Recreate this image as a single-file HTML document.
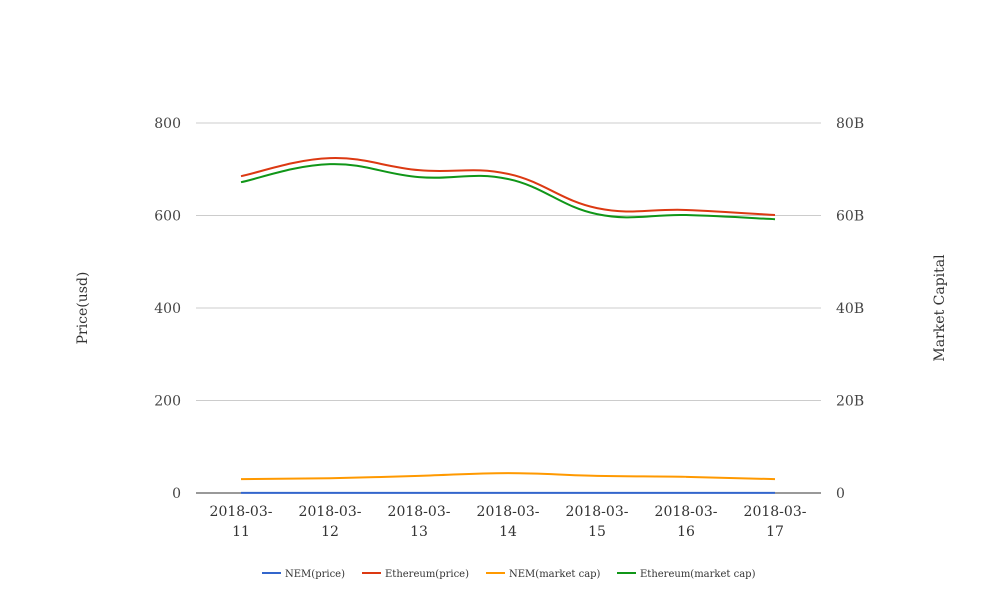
<!DOCTYPE html>
<html><head><meta charset="utf-8"><style>
body{margin:0;background:#fff;}
svg{display:block;font-family:"DejaVu Serif","Liberation Serif",serif;}
</style></head><body>
<svg id="chart" width="1008" height="616"></svg>
<script>
const categories=["2018-03-11","2018-03-12","2018-03-13","2018-03-14","2018-03-15","2018-03-16","2018-03-17"];
const nemPrice=[0.30,0.32,0.34,0.38,0.36,0.33,0.30];
const ethPrice=[685,724,698,690,616,612,601];
const nemCap=[3.0,3.2,3.7,4.3,3.7,3.5,3.0];
const ethCap=[67.2,71.1,68.3,67.9,60.3,60.1,59.2];
const leftTicks=[0,200,400,600,800];
const rightTicks=["0","20B","40B","60B","80B"];
const NS="http://www.w3.org/2000/svg";
const svg=document.getElementById('chart');
const X0=196,X1=821,Y0=493,Y1=123;
const xPos=i=>241+i*89;
const yL=v=>Y0-(v/800)*(Y0-Y1);
const yR=v=>Y0-(v/80)*(Y0-Y1);
function mk(t,a){const e=document.createElementNS(NS,t);for(const k in a)e.setAttribute(k,a[k]);svg.appendChild(e);return e;}
leftTicks.forEach((v,i)=>{
 const y=yL(v);
 const g=mk('line',{x1:X0,x2:X1,y1:y,y2:y,stroke:v===0?'#333':'#ccc','stroke-width':1});
 
 
 const t=mk('text',{x:181,y:y+5,'text-anchor':'end','font-size':14,fill:'#444'});t.textContent=v;
 
 
 const r=mk('text',{x:836,y:y+5,'font-size':14,fill:'#444'});r.textContent=rightTicks[i];
 
 
});
categories.forEach((c,i)=>{
 const p=c.split('-');
 const t=mk('text',{x:xPos(i),y:516,'text-anchor':'middle','font-size':14,fill:'#333'});
 t.textContent=p[0]+'-'+p[1]+'-';
 
 
 const t2=mk('text',{x:xPos(i),y:536,'text-anchor':'middle','font-size':14,fill:'#333'});
 t2.textContent=p[2];
 
 
});
const lt=mk('text',{x:0,y:0,'font-size':14,fill:'#333','text-anchor':'middle',transform:'translate(87,308) rotate(-90)'});
lt.textContent='Price(usd)';


const rt=mk('text',{x:0,y:0,'font-size':14,fill:'#333','text-anchor':'middle',transform:'translate(944,308) rotate(-90)'});
rt.textContent='Market Capital';


function smooth(pts){
 let d='M'+pts[0][0]+','+pts[0][1];
 for(let i=0;i<pts.length-1;i++){
  const p0=pts[i-1]||pts[i],p1=pts[i],p2=pts[i+1],p3=pts[i+2]||p2;
  const t=0.2;
  d+=' C'+(p1[0]+(p2[0]-p0[0])*t)+','+(p1[1]+(p2[1]-p0[1])*t)+' '+(p2[0]-(p3[0]-p1[0])*t)+','+(p2[1]-(p3[1]-p1[1])*t)+' '+p2[0]+','+p2[1];
 }
 return d;
}
const series=[
 {name:'NEM(price)',data:nemPrice,y:yL,color:'#3366cc',key:'nem-price'},
 {name:'Ethereum(price)',data:ethPrice,y:yL,color:'#dc3912',key:'ethereum-price'},
 {name:'NEM(market cap)',data:nemCap,y:yR,color:'#ff9900',key:'nem-market-cap'},
 {name:'Ethereum(market cap)',data:ethCap,y:yR,color:'#109618',key:'ethereum-market-cap'}
];
series.forEach(s=>{
 const p=mk('path',{d:smooth(s.data.map((v,i)=>[xPos(i),s.y(v)])),fill:'none',stroke:s.color,'stroke-width':2});
 
 
});
const legX=[262,362,486,617];
series.forEach((s,i)=>{
 const l=mk('line',{x1:legX[i],x2:legX[i]+19,y1:573,y2:573,stroke:s.color,'stroke-width':2});
 
 
 const t=mk('text',{x:legX[i]+23,y:577,'font-size':10,fill:'#333'});t.textContent=s.name;
 
 
});
</script>
</body></html>
